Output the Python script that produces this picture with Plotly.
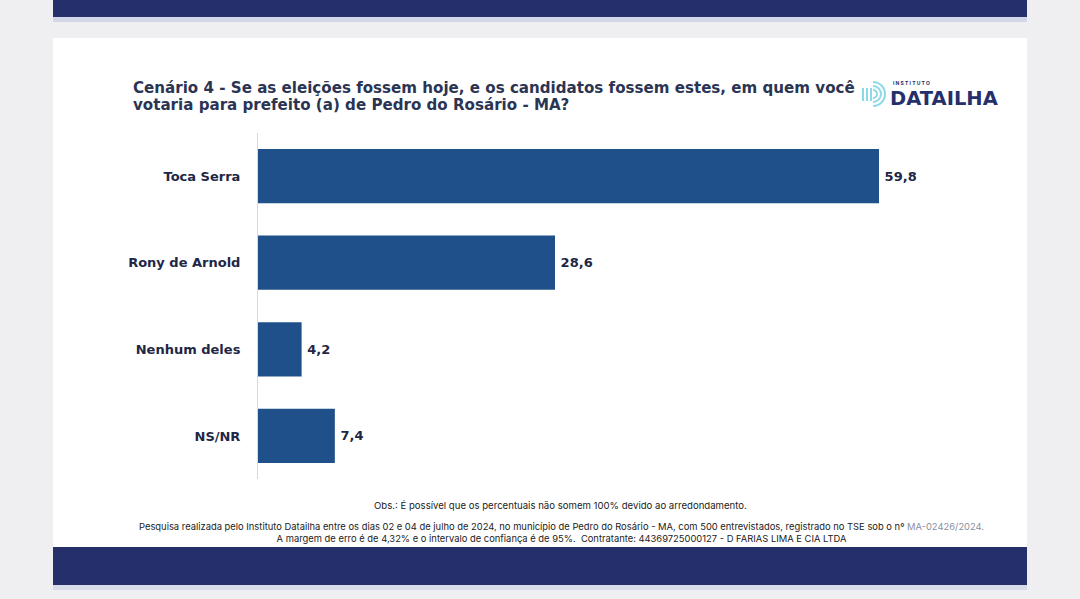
import plotly.graph_objects as go

categories = ["Toca Serra", "Rony de Arnold", "Nenhum deles", "NS/NR"]
values = [59.8, 28.6, 4.2, 7.4]
value_labels = ["59,8", "28,6", "4,2", "7,4"]

title_lines = ["Cenário 4 - Se as eleições fossem hoje, e os candidatos fossem estes, em quem você",
               "votaria para prefeito (a) de Pedro do Rosário - MA?"]
obs_text = "Obs.: É possível que os percentuais não somem 100% devido ao arredondamento."
foot_text = ("Pesquisa realizada pelo Instituto Datailha entre os dias 02 e 04 de julho de 2024, no município de Pedro do Rosário - MA, com 500 entrevistados, registrado no TSE sob o nº <span style='color:#8a8fa0'>MA-02426/2024.</span><br>"
             "A margem de erro é de 4,32% e o intervalo de confiança é de 95%.  Contratante: 44369725000127 - D FARIAS LIMA E CIA LTDA")

W, H = 1080, 599
NAVY = "#25306b"
BAR = "#1f5089"
TXT = "#1e2745"
FONT = "Inter"
HEAD = "DejaVu Sans"
ICON = "#8cdae8"

def py(p):
    return 1 - p / H

def px(p):
    return p / W

def pt(x, y):
    return f"{px(x):.5f},{py(y):.5f}"

fig = go.Figure()
fig.add_trace(go.Bar(
    y=categories, x=values, orientation="h",
    marker=dict(color=BAR, line=dict(width=0)),
    text=["\u2009" + t for t in value_labels], textposition="outside",
    textfont=dict(family=HEAD, size=13, color=TXT, weight="bold"),
    cliponaxis=False, hoverinfo="skip",
))

shapes = []
shapes.append(dict(type="rect", xref="paper", yref="paper", x0=px(53), x1=px(1027), y0=py(22), y1=py(17),
                   fillcolor="#d3d6e6", line_width=0, layer="below"))
shapes.append(dict(type="rect", xref="paper", yref="paper", x0=px(53), x1=px(1027), y0=py(17), y1=py(0),
                   fillcolor=NAVY, line_width=0, layer="below"))
shapes.append(dict(type="rect", xref="paper", yref="paper", x0=px(53), x1=px(1027), y0=py(547), y1=py(38),
                   fillcolor="white", line_width=0, layer="below"))
shapes.append(dict(type="rect", xref="paper", yref="paper", x0=px(53), x1=px(1027), y0=py(590), y1=py(585),
                   fillcolor="#d8dbe8", line_width=0, layer="below"))
shapes.append(dict(type="rect", xref="paper", yref="paper", x0=px(53), x1=px(1027), y0=py(585), y1=py(547),
                   fillcolor=NAVY, line_width=0, layer="below"))

# logo icon: vertical stems + concentric D arcs
cx, cy, k = 873, 94, 0.5523
for i, r in enumerate([4, 8, 12]):
    d = (f"M{pt(cx, cy - r)} C{pt(cx + k * r, cy - r)} {pt(cx + r, cy - k * r)} {pt(cx + r, cy)} "
         f"C{pt(cx + r, cy + k * r)} {pt(cx + k * r, cy + r)} {pt(cx, cy + r)}")
    shapes.append(dict(type="path", xref="paper", yref="paper", path=d,
                       line=dict(color=ICON, width=2)))
for xs in [863, 867, 871]:
    shapes.append(dict(type="line", xref="paper", yref="paper", x0=px(xs), x1=px(xs), y0=py(88), y1=py(101),
                       line=dict(color=ICON, width=2)))

annotations = []
for i, line in enumerate(title_lines):
    annotations.append(dict(text=line, x=px(131), y=py(88 + 17 * i), xref="paper", yref="paper",
                            xanchor="left", yanchor="middle", showarrow=False,
                            font=dict(family=HEAD, size=15.1, color="#2b3553", weight="bold")))
annotations += [
    dict(text="I N S T I T U T O", x=px(891), y=py(83), xref="paper", yref="paper", xanchor="left", yanchor="middle",
         showarrow=False, font=dict(family=FONT, size=5, color=NAVY, weight="bold")),
    dict(text="DATAILHA", x=px(888), y=py(98), xref="paper", yref="paper", xanchor="left", yanchor="middle",
         showarrow=False, font=dict(family=HEAD, size=19.5, color=NAVY, weight="bold")),
    dict(text=obs_text, x=px(560), y=py(505), xref="paper", yref="paper", xanchor="center", yanchor="middle",
         showarrow=False, font=dict(family=FONT, size=9.6, color="#222222")),
    dict(text=foot_text, x=px(561), y=py(532), xref="paper", yref="paper", xanchor="center", yanchor="middle",
         align="center", showarrow=False, font=dict(family=FONT, size=9.4, color="#222222")),
]

x_end_px = 1000
xmax = 59.8 * (x_end_px - 258) / (879 - 258)

fig.update_layout(
    width=W, height=H,
    margin=dict(l=0, r=0, t=0, b=0),
    paper_bgcolor="#efeff1", plot_bgcolor="rgba(0,0,0,0)",
    showlegend=False, bargap=0.375,
    shapes=shapes, annotations=annotations,
    xaxis=dict(domain=[px(258), px(x_end_px)], range=[0, xmax], visible=False, fixedrange=True),
    yaxis=dict(domain=[py(479.25), py(132.75)], categoryorder="array", categoryarray=categories,
               autorange="reversed", showline=True, linecolor="#d9d9d9", linewidth=1,
               showgrid=False, zeroline=False, ticks="", ticklabelstandoff=14,
               tickfont=dict(family=HEAD, size=13, color=TXT, weight="bold")),
)

fig.write_html("out.html", config={"displayModeBar": False},
               post_script="document.body.style.margin='0';document.body.style.background='#efeff1';")
